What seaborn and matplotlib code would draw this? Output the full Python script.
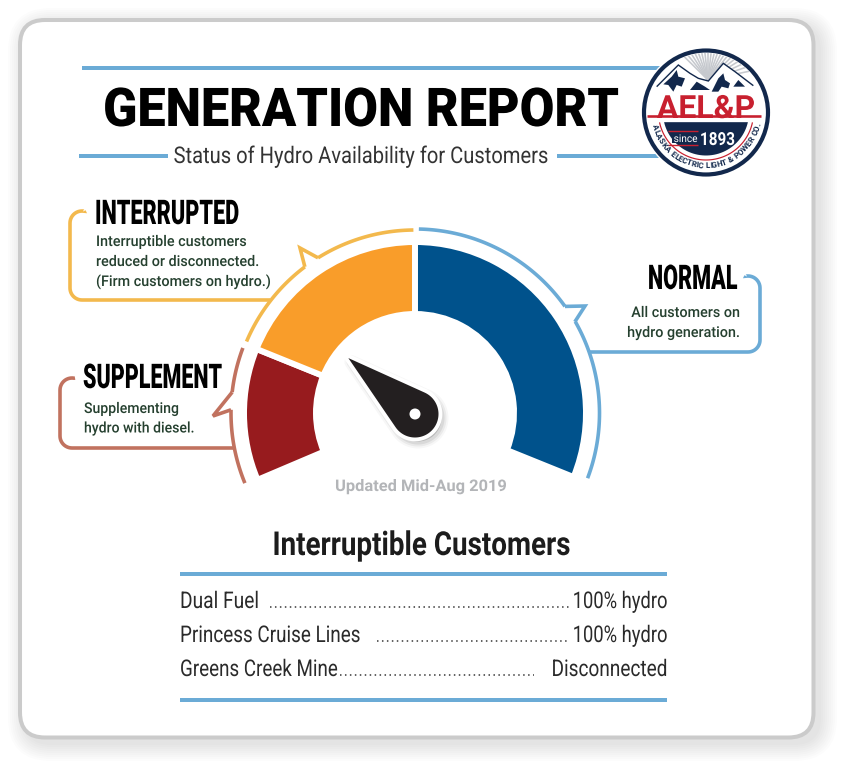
import numpy as np
import matplotlib
matplotlib.use("Agg")
import matplotlib.pyplot as plt
from matplotlib.font_manager import FontProperties
from matplotlib.patches import FancyBboxPatch, Circle, Polygon, Rectangle
from matplotlib.patheffects import AbstractPathEffect
from matplotlib.textpath import TextPath
from matplotlib.transforms import Affine2D
import seaborn as sns

# ------------------------------------------------------------
# data
# ------------------------------------------------------------
gauge_labels = ["Supplement", "Interrupted", "Normal"]
gauge_spans = [45, 68, 112]              # degrees of the dial, left to right
gauge_start = 203                        # where the dial starts
gauge_colors = ["#971b1e", "#f99d2a", "#00528c"]
arc_colors = ["#c1725f", "#f3b94d", "#6babd6"]
needle_angle = 140

callout_titles = ["SUPPLEMENT", "INTERRUPTED", "NORMAL"]
callout_widths = [138, 142, 88]
callout_bodies = [
    ["Supplementing", "hydro with diesel."],
    ["Interruptible customers", "reduced or disconnected.", "(Firm customers on hydro.)"],
    ["All customers on", "hydro generation."],
]

customers = ["Dual Fuel", "Princess Cruise Lines", "Greens Creek Mine"]
customer_widths = [76, 178, 156]
customer_status = ["100% hydro", "100% hydro", "Disconnected"]
status_widths = [92.5, 92.5, 113]

title = "GENERATION REPORT"
subtitle = "Status of Hydro Availability for Customers"
updated = "Updated Mid-Aug 2019"
table_title = "Interruptible Customers"

# ------------------------------------------------------------
# setup: one axes in pixel coordinates, y going down
# ------------------------------------------------------------
sns.set_theme(style="white")
plt.rcParams["text.hinting"] = "no_hinting"
plt.rcParams["text.hinting_factor"] = 1
BODY = "Roboto"
RULE = "#6babd6"
DARK = "#25402f"
ARC_W = 3.6
CX, CY = 415, 413

fig = plt.figure(figsize=(8.5, 7.73), dpi=100, facecolor="white")
ax = fig.add_axes([0, 0, 1, 1])


class Squeeze(AbstractPathEffect):
    """Narrow a text horizontally around its anchor (no condensed font installed)."""

    def __init__(self, x0, sx):
        super().__init__()
        self.x0, self.sx = x0, sx

    def draw_path(self, renderer, gc, tpath, affine, rgbFace=None):
        squeeze = Affine2D().translate(-self.x0, 0).scale(self.sx, 1).translate(self.x0, 0)
        renderer.draw_path(gc, tpath, affine + squeeze, rgbFace)


def stroke(xs, ys, color, px=ARC_W, **kw):
    """Polyline through seaborn, width given in pixels."""
    sns.lineplot(x=list(xs), y=list(ys), ax=ax, color=color, lw=px * 0.72,
                 sort=False, estimator=None, legend=False,
                 solid_capstyle="butt", solid_joinstyle="miter", **kw)


def put(x, y, s, px, weight="normal", color="black", ha="left", width=None, sx=None, zorder=10):
    fp = FontProperties(family=BODY, weight=weight, size=px * 0.72)
    t = ax.text(x, y, s, fontproperties=fp, color=color, ha=ha, va="baseline", zorder=zorder)
    if width is not None:
        # TextPath size is in points, so convert the measure back to pixels
        sx = width * 0.72 / TextPath((0, 0), s, prop=fp).get_extents().width
    if sx is not None:
        t.set_path_effects([Squeeze(x, sx)])
    return t


def polar(r, deg, cx=CX, cy=CY):
    t = np.radians(deg)
    return cx + r * np.cos(t), cy - r * np.sin(t)


def arc(r, a0, a1, n=60):
    return polar(r, np.linspace(a0, a1, n))


def corner(xc, yc, a0, a1, r):
    """Rounded corner with centre (xc, yc)."""
    t = np.radians(np.linspace(a0, a1, 12))
    return list(xc + r * np.cos(t)), list(yc - r * np.sin(t))


# ------------------------------------------------------------
# card with soft shadow
# ------------------------------------------------------------
for grow in range(2, 20, 2):
    ax.add_patch(FancyBboxPatch((26, 26), 793, 717, boxstyle=f"round,pad={grow},rounding_size={25 + grow}",
                                fc="black", ec="none", alpha=0.011, zorder=0))
ax.add_patch(FancyBboxPatch((20, 20), 793.5, 717.5, boxstyle="round,pad=0,rounding_size=25",
                            fc="white", ec="#cbcbcb", lw=2.9, zorder=1))

# ------------------------------------------------------------
# header
# ------------------------------------------------------------
stroke([82, 662], [68, 68], RULE, 4)
stroke([79, 168], [155.5, 155.5], RULE, 4)
stroke([557, 662], [155.5, 155.5], RULE, 4)
put(363.5, 126, title, 53.5, "black", ha="center", width=513)
put(361, 163, subtitle, 23, color="#333333", ha="center", width=373)

# ------------------------------------------------------------
# dial
# ------------------------------------------------------------
hidden = 360 - sum(gauge_spans)
wedges, _ = ax.pie(gauge_spans + [hidden], colors=gauge_colors + ["none"],
                   startangle=360 - gauge_start, counterclock=True,
                   center=(CX, CY), radius=171, frame=True,
                   wedgeprops=dict(width=72, edgecolor="white", linewidth=4.3))
wedges[-1].set_edgecolor("none")
for w in wedges:
    w.set_zorder(3)

# outer arcs, each with its little pointer and callout bracket
x, y = arc(184, 159.3, 173.5)
stroke(x, y, arc_colors[0])
a, b = polar(184, 173.5), polar(184, 179)
stroke([a[0], 213, b[0]], [a[1], 416, b[1]], arc_colors[0])
x, y = arc(184, 179, 202.4)
stroke(x, y, arc_colors[0])

x, y = arc(183, 90.5, 122)
stroke(x, y, arc_colors[1])
a, b = polar(183, 122), polar(183, 127)
stroke([a[0], 300, b[0]], [a[1], 248, b[1]], arc_colors[1])
x, y = arc(183, 127, 157)
stroke(x, y, arc_colors[1])

x, y = arc(184, 88.8, 35.4)
stroke(x, y, arc_colors[2])
a, b = polar(184, 35.4), polar(184, 29.7)
stroke([a[0], 585, b[0]], [a[1], 306, b[1]], arc_colors[2])
x, y = arc(184.5, 29.7, -20.7)
stroke(x, y, arc_colors[2])

# brackets
cx1, cy1 = corner(82, 223, 80, 180, 12)
cx2, cy2 = corner(82, 288, 180, 270, 12)
stroke([84] + cx1 + cx2 + [270], [211] + cy1 + cy2 + [300], arc_colors[1])

cx1, cy1 = corner(72, 390, 80, 180, 12)
cx2, cy2 = corner(72, 436, 180, 270, 12)
stroke([75] + cx1 + cx2 + [233], [378] + cy1 + cy2 + [448], arc_colors[0])

cx1, cy1 = corner(748, 288, 100, 0, 12)
cx2, cy2 = corner(748, 340, 0, -90, 12)
stroke([746] + cx1 + cx2 + [588], [276] + cy1 + cy2 + [352], arc_colors[2])

# callout text
put(83, 388, callout_titles[0], 34, "black", width=callout_widths[0])
for i, s in enumerate(callout_bodies[0]):
    put(84, 413 + i * 19.5, s, 14.8, "medium", color=DARK, sx=0.95)
put(95, 224, callout_titles[1], 34, "black", width=callout_widths[1])
for i, s in enumerate(callout_bodies[1]):
    put(96, 246 + i * 20, s, 14.8, "medium", color=DARK, sx=0.97)
put(737.5, 289, callout_titles[2], 34, "black", ha="right", width=callout_widths[2])
for i, s in enumerate(callout_bodies[2]):
    put(741.5, 317 + i * 20, s, 14.8, "medium", color=DARK, ha="right", sx=0.97)

# needle
HUB = (415, 414)
tip = polar(87, needle_angle, *HUB)
hub_r = 23.5
side = np.degrees(np.arccos(hub_r / 87))
t = np.linspace(needle_angle - side, needle_angle + side - 360, 60)
rim = np.column_stack(polar(hub_r, t, *HUB))
shape = np.vstack([tip, rim])
for grow, alpha in [(14, 0.03), (10, 0.05), (6, 0.07)]:
    ax.add_patch(Polygon(shape + [3, 4], closed=True, fc="black", ec="black", lw=grow * 0.72,
                         alpha=alpha, joinstyle="round", zorder=4))
ax.add_patch(Polygon(shape, closed=True, fc="white", ec="white", lw=5.5, joinstyle="round", zorder=5))
ax.add_patch(Polygon(shape, closed=True, fc="#231f20", ec="none", zorder=6))
ax.add_patch(Circle(HUB, 5.5, fc="white", ec="none", zorder=7))

put(421, 491, updated, 16, "bold", color="#b3b5b8", ha="center", width=170)

# ------------------------------------------------------------
# customer table
# ------------------------------------------------------------
put(421.5, 555, table_title, 33, "bold", color="#1c1c1c", ha="center", width=295)
stroke([180, 667], [574, 574], RULE, 4)
stroke([180, 667], [700, 700], RULE, 4)
row_y = [608, 642, 676]
dot_from = [270, 377, 340]
dot_to = [570, 570, 534]
for i in range(len(customers)):
    put(180, row_y[i], customers[i], 23, color="#2a2a2a", width=customer_widths[i])
    put(667.5, row_y[i], customer_status[i], 23, color="#2a2a2a", ha="right", width=status_widths[i])
    stroke([dot_from[i], dot_to[i]], [row_y[i] - 1, row_y[i] - 1], "#333333", 1.5,
           linestyle=(0, (1.0, 2.3)))

# ------------------------------------------------------------
# logo
# ------------------------------------------------------------
LX, LY = 706, 112.5
NAVY = "#12284c"
RED = "#c8202f"
ax.add_patch(Circle((LX, LY), 65.5, fc="white", ec="none", zorder=8))
ax.add_patch(Circle((LX, LY), 62, fc="white", ec=NAVY, lw=3, zorder=8))


def logo_xy(points):
    # points measured on the 3x crop of the logo top
    return np.array([(640 + a / 3, 45 + b / 3) for a, b in points])


# rays behind the peaks, kept inside the ring
inner = Circle((LX, LY), 59.5, transform=ax.transData)
for deg in np.arange(12, 136, 6.5):
    x, y = polar(70, deg, 708, 80)
    n = len(ax.lines)
    stroke([708, x], [80, y], "#c6c9ce", 1.6, zorder=8.1)
    ax.lines[n].set_clip_path(inner)

ridge = [(50, 125), (75, 100), (115, 60), (150, 85), (175, 100), (205, 108), (250, 55), (285, 80), (340, 122)]
ax.add_patch(Polygon(np.vstack([logo_xy(ridge), [[754, 116], [652, 116]]]), fc="white", ec="none", zorder=8.2))
ridge_xy = logo_xy(ridge)
stroke(ridge_xy[:, 0], ridge_xy[:, 1], NAVY, 1.4, zorder=8.3)
rocks = [
    [(70, 118), (95, 95), (110, 75), (115, 95), (135, 100), (125, 125), (110, 120), (100, 140), (85, 120)],
    [(150, 135), (170, 110), (195, 125), (210, 135), (190, 135)],
    [(215, 140), (235, 100), (250, 85), (255, 105), (270, 115), (265, 130), (245, 125), (235, 140)],
    [(280, 125), (295, 105), (315, 125)],
]
for r in rocks:
    ax.add_patch(Polygon(logo_xy(r), fc=NAVY, ec="none", zorder=8.3))

# navy lower field and thin red ring
ax.add_patch(Polygon(np.column_stack(polar(43, np.linspace(-13, -167, 50), LX, LY)),
                     fc=NAVY, ec="none", zorder=8.3))
x, y = polar(47.5, np.linspace(-12, -168, 60), LX, LY)
stroke(x, y, RED, 1.2, zorder=8.4)
stroke([647, 761], [115.5, 115.5], RED, 2.6, zorder=8.5)
put(706, 118, "AEL&P", 32, "bold", color=RED, ha="center", width=97, zorder=8.6)

for yy in [131, 145]:
    stroke([668, 698], [yy, yy], RED, 1.4, zorder=8.5)
ax.add_patch(Rectangle((672, 133), 26, 10, fc=NAVY, ec="none", zorder=8.55))
put(685, 142, "since", 10.5, color="white", ha="center", width=23, zorder=8.6)
put(700, 145, "1893", 18, "bold", color="white", width=33, zorder=8.6)

# ring text placed by the width of each letter
ring_text = "ALASKA ELECTRIC LIGHT & POWER CO."
ring_fp = FontProperties(family=BODY, weight="bold", size=6.0)
adv = np.array([2.0 if c == " " else TextPath((0, 0), c, prop=ring_fp).get_extents().width + 0.8
                for c in ring_text])
mid = np.cumsum(adv) - adv / 2
for ch, frac in zip(ring_text, mid / adv.sum()):
    deg = 193 + frac * 155
    x, y = polar(53.5, deg, LX, LY)
    ax.text(x, y, ch, fontproperties=ring_fp, color=NAVY,
            rotation=deg + 90, rotation_mode="anchor", ha="center", va="center", zorder=8.6)

ax.set_xlim(0, 850)
ax.set_ylim(773, 0)
ax.set_aspect("equal")
ax.axis("off")
fig.savefig("out.png", dpi=100, facecolor="white")
